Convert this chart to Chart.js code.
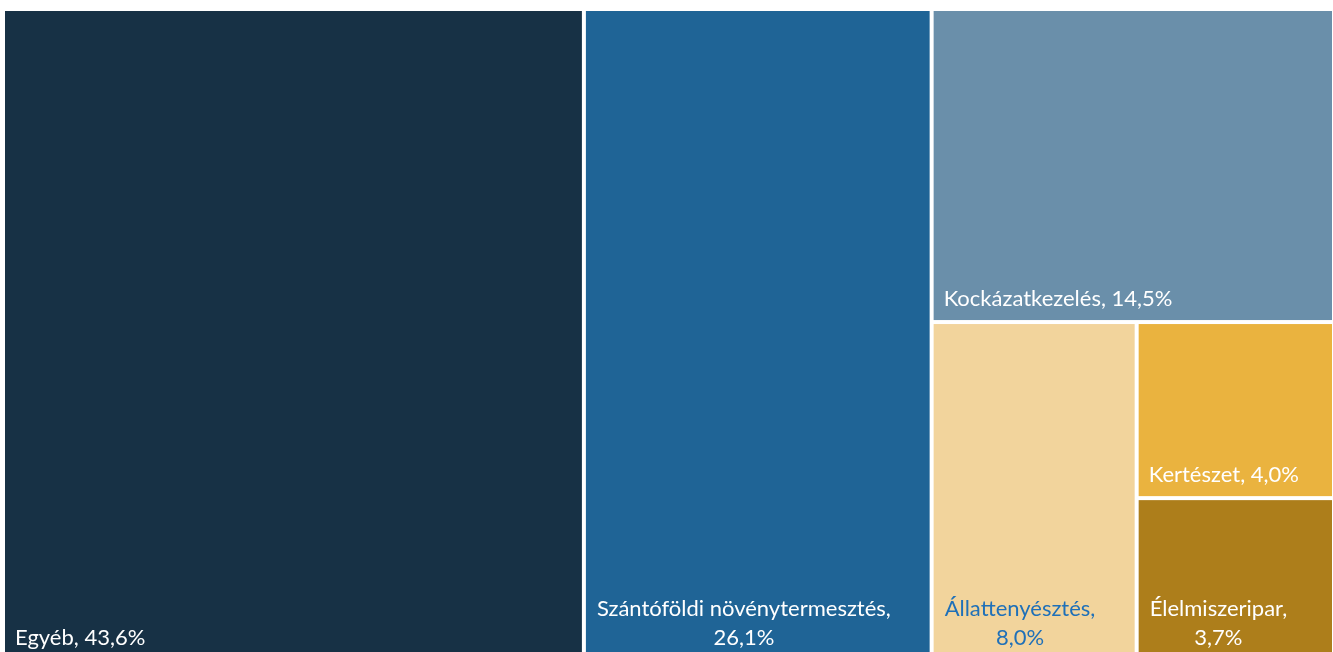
<!DOCTYPE html>
<html>
<head>
<meta charset="utf-8">
<script src="https://cdn.jsdelivr.net/npm/chart.js@4/dist/chart.umd.min.js"></script>
<style>
  html, body { margin: 0; padding: 0; background: #fff; overflow: hidden; }
  #wrap { width: 1333px; height: 652px; overflow: hidden; position: relative; }
  #treemap { position: absolute; left: 0; top: 0; }
</style>
</head>
<body>
<div id="wrap"><canvas id="treemap" width="1336" height="662"></canvas></div>
<script>
// Kategóriák és részesedések (%)
const labels = ['Egyéb', 'Szántóföldi növénytermesztés', 'Kockázatkezelés', 'Állattenyésztés', 'Kertészet', 'Élelmiszeripar'];
const shares = [43.6, 26.1, 14.5, 8.0, 4.0, 3.7];
const colors = ['#173145', '#1F6496', '#6A8FAA', '#F2D49C', '#EAB33F', '#AD7E1B'];
const textColors = ['#ffffff', '#ffffff', '#ffffff', '#1F70B8', '#ffffff', '#ffffff'];

// squarified treemap, egységnyi koordinátákban (w x h)
function squarify(values, w, h) {
    const total = values.reduce((a, b) => a + b, 0);
    const areas = values.map(v => v / total * w * h);
    let x = 0, y = 0;
    const out = [];
    const worst = (row, side) => {
        const s = row.reduce((a, b) => a + b, 0);
        const mx = Math.max(...row), mn = Math.min(...row);
        return Math.max(side * side * mx / (s * s), s * s / (side * side * mn));
    };
    const layoutRow = (row, startIdx) => {
        const s = row.reduce((a, b) => a + b, 0);
        if (w >= h) {
            const cw = s / h;
            let yy = y;
            row.forEach((a, k) => { const rh = a / cw; out[startIdx + k] = { x: x, y: yy, w: cw, h: rh }; yy += rh; });
            x += cw; w -= cw;
        } else {
            const rh = s / w;
            let xx = x;
            row.forEach((a, k) => { const rw = a / rh; out[startIdx + k] = { x: xx, y: y, w: rw, h: rh }; xx += rw; });
            y += rh; h -= rh;
        }
    };
    let row = [], start = 0, i = 0;
    while (i < areas.length) {
        const side = Math.min(w, h);
        if (row.length === 0 || worst([...row, areas[i]], side) <= worst(row, side)) {
            row.push(areas[i]); i++;
        } else {
            layoutRow(row, start);
            start = i; row = [];
        }
    }
    if (row.length) layoutRow(row, start);
    return out;
}

const fmt = v => v.toFixed(1).replace('.', ',') + '%';

const treemapPlugin = {
    id: 'treemap',
    afterDatasetsDraw(chart) {
        const { ctx, chartArea, scales } = chart;
        const ds = chart.data.datasets[0];
        const k = (chartArea.bottom - chartArea.top) / (chartArea.right - chartArea.left);
        // layout: x 0..100, y 0..100*k, y visszaskálázva 0..100-ra
        const rects = squarify(ds.data, 100, 100 * k);
        const gap = 2;
        ctx.save();
        rects.forEach((r, i) => {
            const left = scales.x.getPixelForValue(r.x) + gap;
            const right = scales.x.getPixelForValue(r.x + r.w) - gap;
            const top = scales.y.getPixelForValue(r.y / k) + gap;
            const bottom = scales.y.getPixelForValue((r.y + r.h) / k) - gap;
            ctx.fillStyle = ds.backgroundColor[i];
            ctx.fillRect(left, top, right - left, bottom - top);

            // felirat a bal alsó sarokban
            ctx.font = '22px Lato';
            ctx.fillStyle = textColors[i];
            ctx.textBaseline = 'alphabetic';
            const name = chart.data.labels[i];
            const full = name + ', ' + fmt(ds.data[i]);
            const base = bottom - 14;
            if (ctx.measureText(full).width + 20 <= right - left) {
                ctx.textAlign = 'left';
                ctx.fillText(full, left + 10, base);
            } else {
                const l1 = name + ',', l2 = fmt(ds.data[i]);
                const bw = Math.max(ctx.measureText(l1).width, ctx.measureText(l2).width);
                const cx = left + 11 + bw / 2;
                ctx.textAlign = 'center';
                ctx.fillText(l1, cx, base - 29);
                ctx.fillText(l2, cx, base);
            }
        });
        ctx.restore();
    }
};

new Chart(document.getElementById('treemap'), {
    type: 'scatter',
    data: {
        labels: labels,
        datasets: [{
            label: 'Részesedés',
            data: shares,
            backgroundColor: colors,
            pointRadius: 0,
            showLine: false
        }]
    },
    options: {
        responsive: false,
        animation: false,
        layout: { padding: { left: 3, top: 9, right: 2, bottom: 1 } },
        plugins: { legend: { display: false }, tooltip: { enabled: false } },
        scales: {
            x: { type: 'linear', min: 0, max: 100, display: false },
            y: { type: 'linear', min: 0, max: 100, reverse: true, display: false }
        }
    },
    plugins: [treemapPlugin]
});
</script>
</body>
</html>
